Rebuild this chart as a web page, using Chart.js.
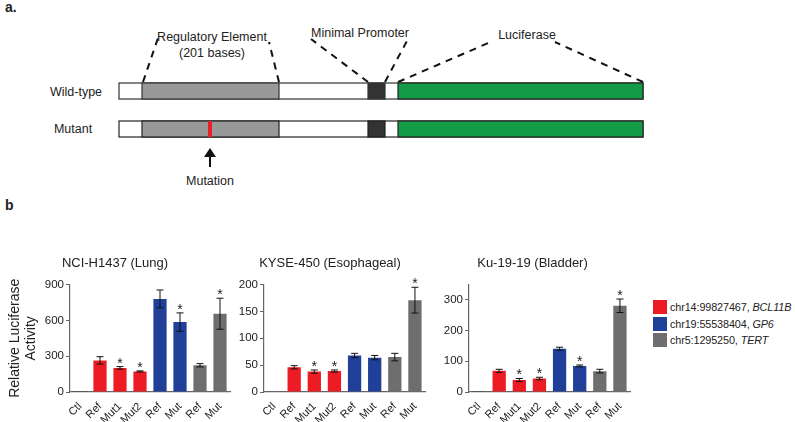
<!DOCTYPE html>
<html>
<head>
<meta charset="utf-8">
<script src="https://cdn.jsdelivr.net/npm/chart.js@4"></script>
<style>
  body { margin: 0; background: #fff; font-family: "Liberation Sans", Arial, sans-serif; color: #222; }
  #page { position: relative; width: 795px; height: 422px; overflow: hidden; }
  .panel-label { position: absolute; font-weight: bold; font-size: 14px; }
  canvas { position: absolute; }
  #legend { position: absolute; left: 653px; top: 299px; font-size: 10.8px; letter-spacing: -0.1px; }
  .legend-row { height: 16.5px; display: flex; align-items: center; white-space: nowrap; }
  .legend-box { width: 14px; height: 14px; margin-right: 3px; }
</style>
</head>
<body>
<div id="page">
  <div class="panel-label" style="left:5px; top:-1px;">a.</div>
  <div class="panel-label" style="left:5px; top:197px;">b</div>

  <svg id="diagram" width="795" height="200" style="position:absolute; left:0; top:0;"
       font-family="Liberation Sans, Arial, sans-serif" font-size="12.5" fill="#222">
    <!-- dashed guides -->
    <g stroke="#111" stroke-width="2" stroke-dasharray="7,6" fill="none">
      <line x1="143" y1="82" x2="158" y2="38"/>
      <line x1="279" y1="82" x2="269" y2="42"/>
      <line x1="368" y1="82" x2="311" y2="39"/>
      <line x1="385" y1="82" x2="408" y2="39"/>
      <line x1="398" y1="82" x2="493" y2="41"/>
      <line x1="643" y1="82" x2="555" y2="42"/>
    </g>
    <text x="212" y="41" text-anchor="middle">Regulatory Element</text>
    <text x="212" y="57" text-anchor="middle">(201 bases)</text>
    <text x="360" y="37" text-anchor="middle">Minimal Promoter</text>
    <text x="527" y="39" text-anchor="middle">Luciferase</text>

    <!-- wild-type construct -->
    <text x="76" y="96" text-anchor="middle">Wild-type</text>
    <rect x="119" y="83" width="524" height="16" fill="#fff" stroke="#333" stroke-width="1.2"/>
    <rect x="142" y="83" width="137" height="16" fill="#999" stroke="#333" stroke-width="1.2"/>
    <rect x="368" y="83" width="17" height="16" fill="#333" stroke="#333" stroke-width="1.2"/>
    <rect x="398" y="83" width="245" height="16" fill="#149B48" stroke="#222" stroke-width="1.2"/>

    <!-- mutant construct -->
    <text x="73" y="133" text-anchor="middle">Mutant</text>
    <rect x="119" y="121" width="524" height="16" fill="#fff" stroke="#222" stroke-width="1.2"/>
    <rect x="142" y="121" width="137" height="16" fill="#999" stroke="#222" stroke-width="1.2"/>
    <rect x="208" y="121" width="4" height="16" fill="#E8202A"/>
    <rect x="368" y="121" width="17" height="16" fill="#333" stroke="#222" stroke-width="1.2"/>
    <rect x="398" y="121" width="245" height="16" fill="#149B48" stroke="#222" stroke-width="1.2"/>

    <!-- mutation arrow -->
    <line x1="210" y1="167" x2="210" y2="156" stroke="#111" stroke-width="2"/>
    <polygon points="204,157 216,157 210,148" fill="#111"/>
    <text x="210" y="185" text-anchor="middle">Mutation</text>
  </svg>

  <canvas id="lung" width="240" height="182" style="left:0px; top:240px;"></canvas>
  <canvas id="eso" width="200" height="182" style="left:235px; top:240px;"></canvas>
  <canvas id="bladder" width="205" height="182" style="left:435px; top:240px;"></canvas>

  <div id="legend"></div>
</div>

<script>
const labels = ['Ctl', 'Ref', 'Mut1', 'Mut2', 'Ref', 'Mut', 'Ref', 'Mut'];
const barColors = ['#333333', '#ED1C24', '#ED1C24', '#ED1C24', '#1F3F99', '#1F3F99', '#6E6E70', '#6E6E70'];

const lungValues = [3, 265, 202, 172, 780, 586, 224, 656];
const lungErrors = [0, 31, 11, 5, 75, 77, 14, 130];
const lungStars = [0, 0, 1, 1, 0, 1, 0, 1];

const esoValues = [1, 46, 38, 39, 68, 64, 65, 171];
const esoErrors = [0, 3, 3, 2, 4, 4, 7, 24];
const esoStars = [0, 0, 1, 1, 0, 0, 0, 1];

const bladderValues = [1, 69, 39, 44, 141, 85, 68, 281];
const bladderErrors = [0, 5, 5, 4, 5, 3, 6, 22];
const bladderStars = [0, 0, 1, 1, 0, 1, 0, 1];

const legendLoci = ['chr14:99827467, ', 'chr19:55538404, ', 'chr5:1295250, '];
const legendGenes = ['BCL11B', 'GP6', 'TERT'];
const legendColors = ['#ED1C24', '#1F3F99', '#6E6E70'];

const FONT = '"Liberation Sans", Arial, sans-serif';

// error bars + significance stars
const errorBarPlugin = {
    id: 'errorBars',
    afterDatasetsDraw(chart, args, opts) {
        const ctx = chart.ctx;
        const y = chart.scales.y;
        const meta = chart.getDatasetMeta(0);
        ctx.save();
        ctx.strokeStyle = '#111';
        ctx.lineWidth = 1;
        meta.data.forEach((bar, i) => {
            const v = opts.values[i];
            const e = opts.errors[i];
            const top = y.getPixelForValue(v + e);
            if (e > 0) {
                const bot = y.getPixelForValue(v - e);
                ctx.beginPath();
                ctx.moveTo(bar.x, top); ctx.lineTo(bar.x, bot);
                ctx.moveTo(bar.x - 3.5, top); ctx.lineTo(bar.x + 3.5, top);
                ctx.moveTo(bar.x - 3.5, bot); ctx.lineTo(bar.x + 3.5, bot);
                ctx.stroke();
            }
            if (opts.stars[i]) {
                ctx.fillStyle = '#222';
                ctx.font = '14px ' + FONT;
                ctx.textAlign = 'center';
                ctx.textBaseline = 'alphabetic';
                ctx.fillText('*', bar.x, top + 1);
            }
        });
        ctx.restore();
    }
};

function makeChart(id, title, values, errors, stars, yMax, yStep, yWidth, yTitle) {
    const ctx = document.getElementById(id).getContext('2d');
    return new Chart(ctx, {
        type: 'bar',
        data: {
            labels: labels,
            datasets: [{
                data: values,
                backgroundColor: barColors,
                borderWidth: 0,
                barPercentage: 0.66,
                categoryPercentage: 1
            }]
        },
        options: {
            responsive: false,
            animation: false,
            layout: { padding: { right: 10, bottom: 0 } },
            plugins: {
                legend: { display: false },
                tooltip: { enabled: false },
                title: {
                    display: true,
                    text: title,
                    color: '#222',
                    font: { family: FONT, size: 13, weight: 'normal' },
                    padding: { top: 16, bottom: 13 }
                },
                errorBars: { values: values, errors: errors, stars: stars }
            },
            scales: {
                x: {
                    grid: { display: false },
                    border: { display: true, color: '#666', width: 1.2 },
                    ticks: {
                        autoSkip: false,
                        minRotation: 45,
                        maxRotation: 45,
                        color: '#222',
                        padding: 0,
                        font: { family: FONT, size: 11 }
                    },
                    afterFit(scale) { scale.height = 30; }
                },
                y: {
                    min: 0,
                    max: yMax,
                    grid: { drawOnChartArea: false, drawTicks: true, tickLength: 4, color: '#666' },
                    border: { display: true, color: '#666', width: 1.2 },
                    ticks: {
                        stepSize: yStep,
                        color: '#222',
                        padding: 2,
                        font: { family: FONT, size: 11.5 }
                    },
                    title: yTitle ? {
                        display: true,
                        text: yTitle,
                        color: '#222',
                        font: { family: FONT, size: 14, lineHeight: 1.15 },
                        padding: { top: 7, bottom: 0 }
                    } : { display: false },
                    afterFit(scale) { scale.width = yWidth; }
                }
            }
        },
        plugins: [errorBarPlugin]
    });
}

makeChart('lung', 'NCI-H1437 (Lung)', lungValues, lungErrors, lungStars, 900, 300, 70, ['Relative Luciferase', 'Activity']);
makeChart('eso', 'KYSE-450 (Esophageal)', esoValues, esoErrors, esoStars, 200, 50, 29, null);
makeChart('bladder', 'Ku-19-19 (Bladder)', bladderValues, bladderErrors, bladderStars, 350, 50, 34, null);

const legend = document.getElementById('legend');
legendLoci.forEach((locus, i) => {
    const row = document.createElement('div');
    row.className = 'legend-row';
    row.innerHTML = `<div class="legend-box" style="background:${legendColors[i]}"></div>
        <span>${locus}<i>${legendGenes[i]}</i></span>`;
    legend.appendChild(row);
});
</script>
</body>
</html>
